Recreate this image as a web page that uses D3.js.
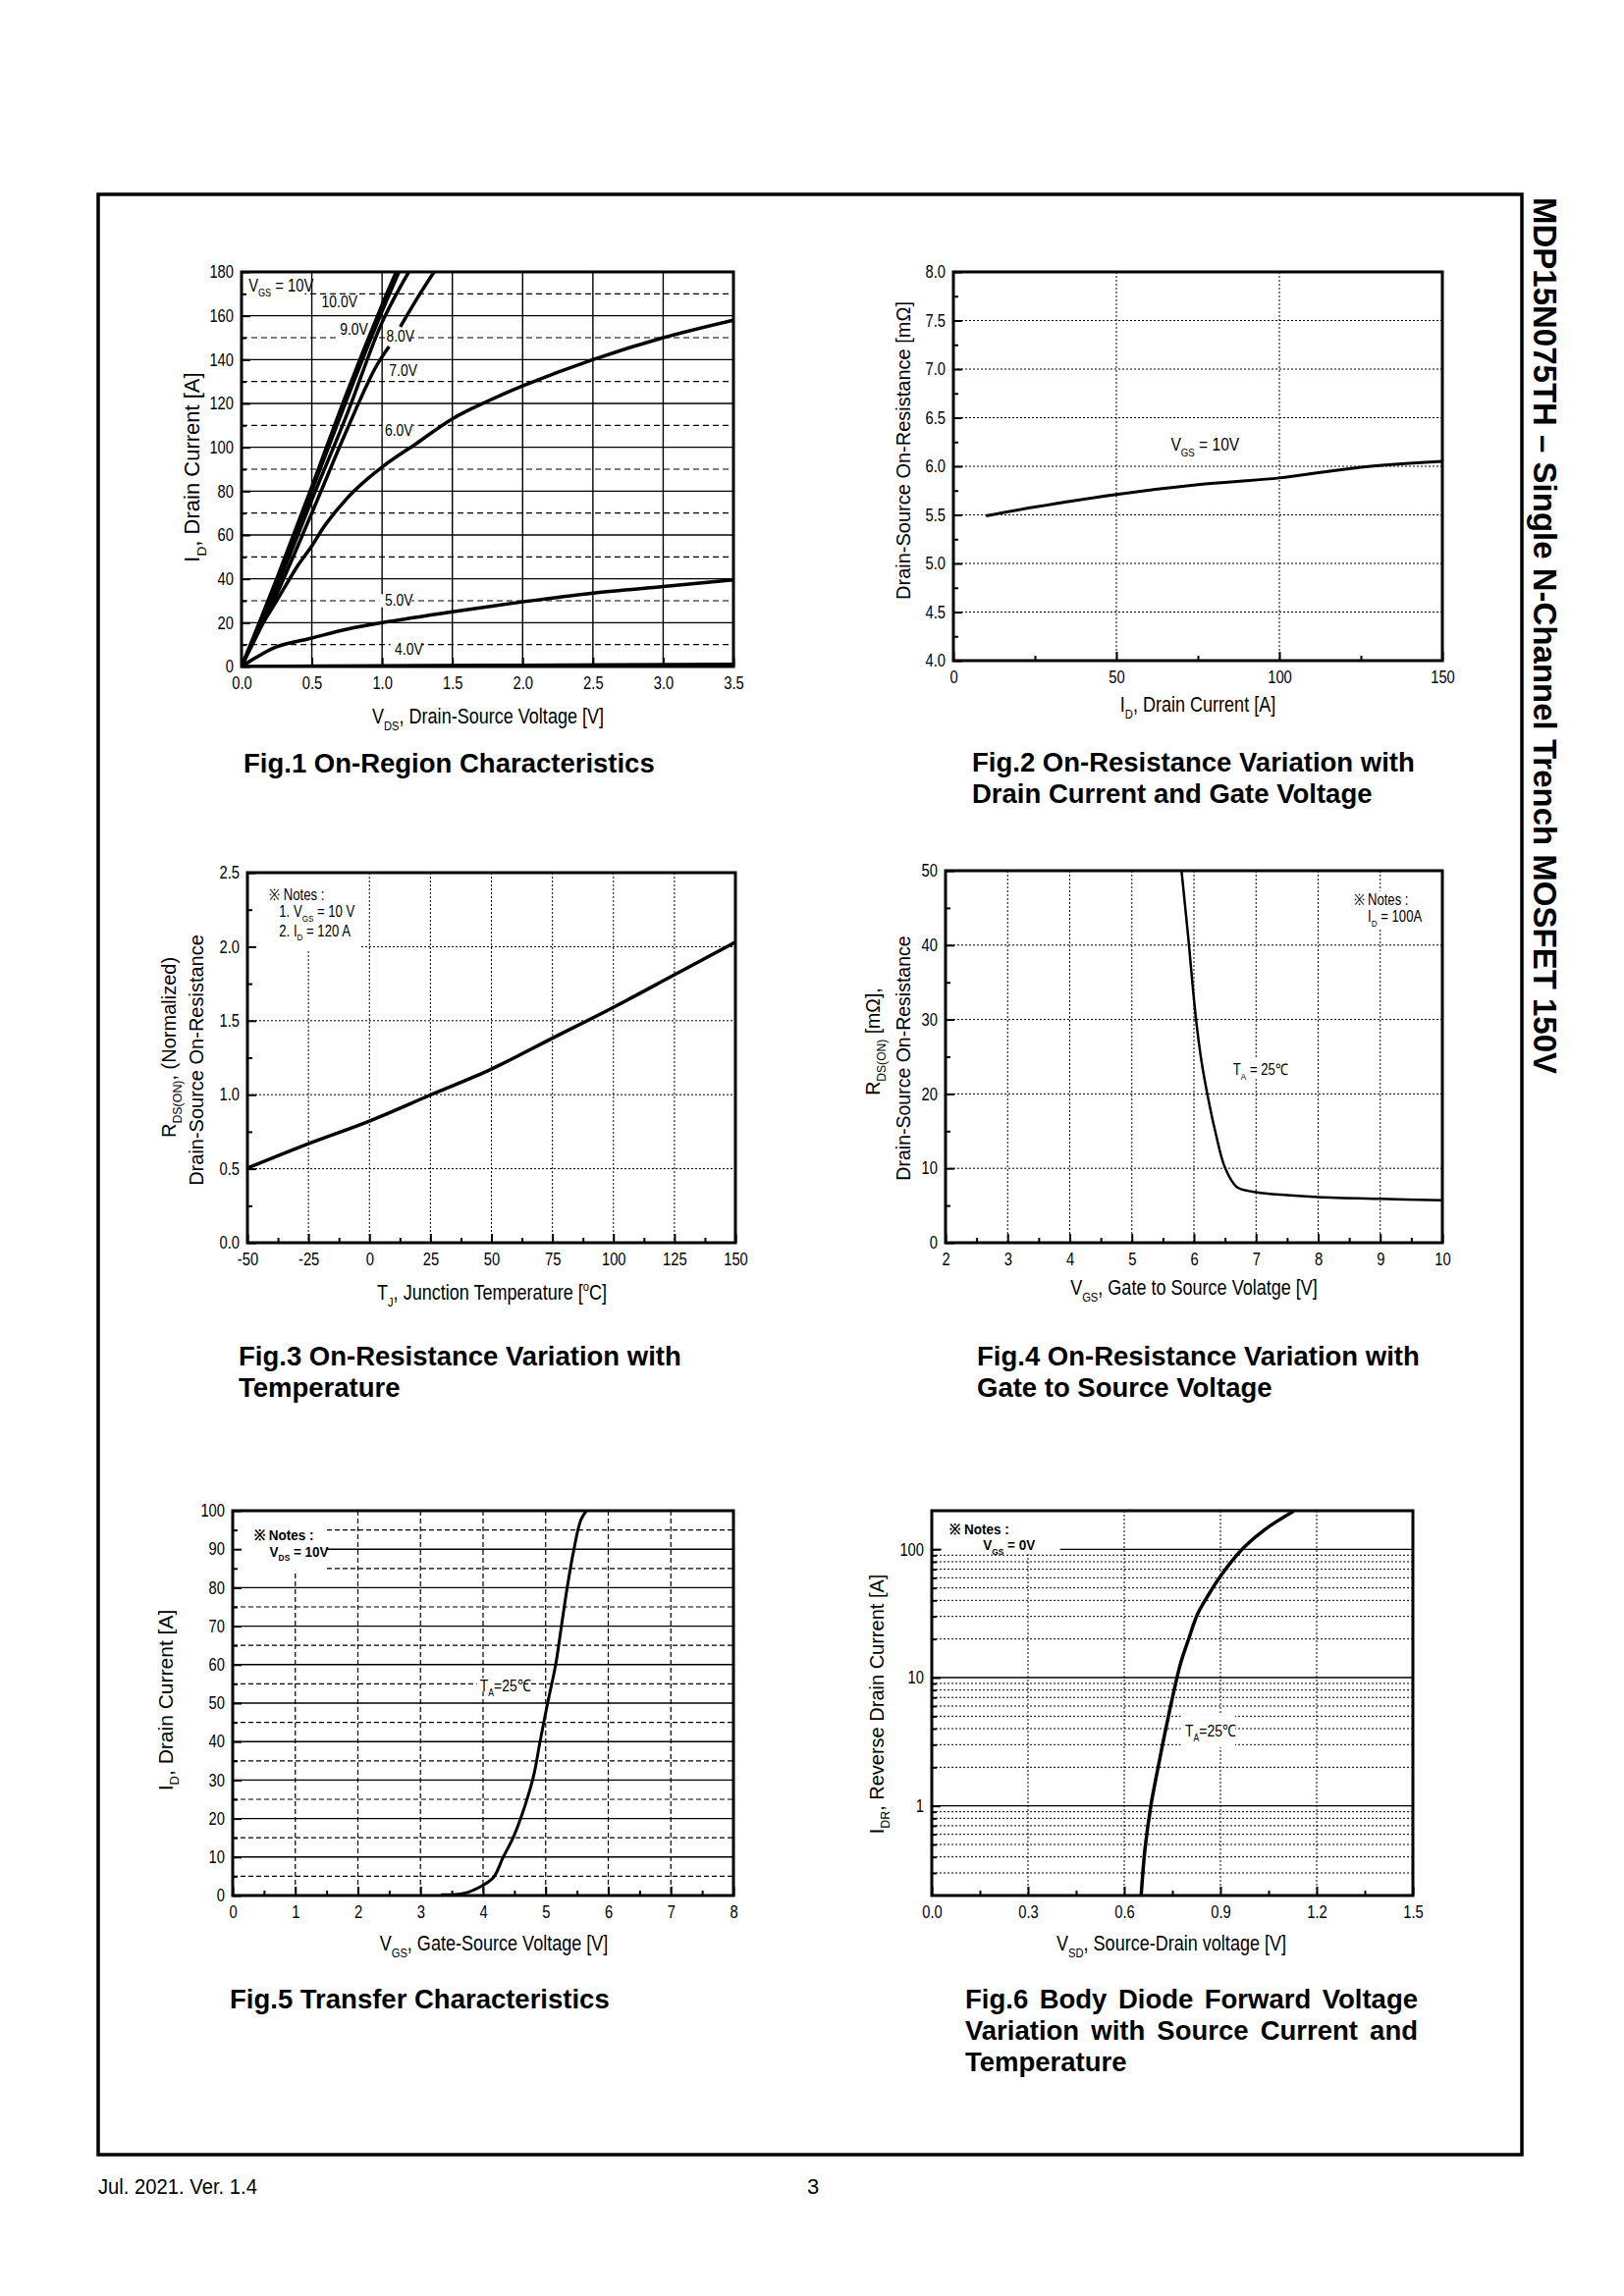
<!DOCTYPE html>
<html><head><meta charset="utf-8">
<script src="https://cdn.jsdelivr.net/npm/d3@7"></script>
<style>
body{margin:0;background:#fff}
svg text{fill:#000}
</style></head><body><svg id="page" width="1654" height="2339"></svg>
<script>
// ---------------- DATA ----------------
// Fig.1  On-Region Characteristics  (VDS [V], ID [A])
const fig1Vgs10 = [[0,0],[0.25,40],[0.5,82],[0.75,125],[1.0,165],[1.1,180]];
const fig1Vgs9  = [[0,0],[0.25,38],[0.5,80],[0.75,122],[1.0,162],[1.12,180]];
const fig1Vgs8  = [[0,0],[0.25,36],[0.5,76],[0.75,115],[1.0,157],[1.19,180]];
const fig1Vgs7  = [[0,0],[0.25,33],[0.5,70],[0.75,108],[0.95,136],[1.05,146],null,[1.13,155],[1.25,168],[1.37,180]];
const fig1Vgs6  = [[0,0],[0.1,14],[0.25,30],[0.4,46],[0.5,55],[0.6,65],[0.8,80],[1.0,91],[1.25,102],[1.5,113],[1.75,121],[2.0,128],[2.5,140],[3.0,150],[3.5,158]];
const fig1Vgs5  = [[0,0],[0.1,4],[0.25,9],[0.5,13],[0.75,17],[1.0,20],[1.5,25],[2.0,29.5],[2.5,33.5],[3.0,36.5],[3.5,39.5]];
const fig1Vgs4  = [[0,0],[1.0,0.3],[2.0,0.6],[3.5,1.0]];
const fig1CurveLabels = ["10.0V","9.0V","8.0V","7.0V","6.0V","5.0V","4.0V"];
// Fig.2  RDS(on) vs ID
const fig2Rds = [[10,5.49],[25,5.58],[50,5.71],[75,5.81],[100,5.88],[125,5.99],[150,6.05]];
// Fig.3  Normalized RDS(on) vs TJ
const fig3Rds = [[-50,0.504],[-25,0.669],[0,0.822],[25,0.998],[50,1.173],[75,1.382],[100,1.59],[125,1.81],[150,2.03]];
// Fig.4  RDS(on) vs VGS
const fig4Rds = [[5.8,50],[5.905,41.3],[6.03,30.3],[6.125,24.2],[6.22,19.8],[6.345,14.9],[6.5,10.1],[6.69,7.5],[7.0,6.8],[7.5,6.4],[8.0,6.15],[9.0,5.9],[10,5.7]];
// Fig.5  Transfer characteristics
const fig5Id = [[3.33,0.2],[3.7,0.6],[3.98,2.5],[4.17,4.8],[4.32,9.9],[4.48,15],[4.6,20],[4.73,26.5],[4.82,32],[4.91,40],[5.03,49.9],[5.16,60],[5.25,69.8],[5.34,79.6],[5.44,89],[5.56,97.5],[5.65,100]];
// Fig.6  Body diode forward
const fig6Idr = [[0.653,0.203],[0.665,0.468],[0.683,1.0],[0.706,2.02],[0.724,3.41],[0.741,5.45],[0.759,8.7],[0.776,13],[0.8,19.7],[0.829,31.4],[0.864,44.7],[0.9,61.7],[0.969,101],[1.04,143.6],[1.128,198]];
const fig6YTickLabels = [1,10,100];

// ---------------- DRAW ----------------
const REG = '"Liberation Sans",Arial,sans-serif';
const COND = 0.82;
const svg = d3.select("#page");
svg.append("rect").attr("width",1654).attr("height",2339).attr("fill","#fff");

function rich(sel, str, size) {
  const re = /([_^])\{([^}]*)\}/g;
  let last = 0, m, pending = 0;
  const add = (t, dy, fs) => {
    const ts = sel.append("tspan").text(t);
    if (dy) ts.attr("dy", dy);
    if (fs) ts.attr("font-size", fs);
  };
  while ((m = re.exec(str)) !== null) {
    if (m.index > last) { add(str.slice(last, m.index), pending); pending = 0; }
    const sh = m[1] === "_" ? 0.3*size : -0.42*size;
    add(m[2], sh + pending, size*0.62);
    pending = -sh;
    last = re.lastIndex;
  }
  if (last < str.length) add(str.slice(last), pending);
  else if (pending) add("\u200B", pending);
}
function txt(g, s, x, y, size, opts={}) {
  const t = g.append("text").attr("font-size", size).attr("font-family", REG)
    .attr("font-weight", opts.bold ? "bold" : "normal")
    .attr("text-anchor", opts.anchor || "start");
  const cond = opts.cond ? `scale(${opts.cond},1)` : "";
  if (opts.transform) t.attr("transform", opts.transform + " " + cond);
  else t.attr("transform", `translate(${x},${y}) ${cond}`);
  rich(t, s, size);
  return t;
}

let clipId = 0;
function chart(c) {
  const [L,T,R,B] = c.box;
  const g = svg.append("g");
  const x = d3.scaleLinear().domain(c.x).range([L,R]);
  const y = (c.log ? d3.scaleLog() : d3.scaleLinear()).domain(c.y).range([B,T]);
  (c.hGrid||[]).forEach(s => s.v.forEach(v => g.append("line")
    .attr("x1",L).attr("x2",R).attr("y1",y(v)).attr("y2",y(v))
    .attr("stroke","#000").attr("stroke-width",s.w).attr("stroke-dasharray",s.dash||null)));
  (c.vGrid||[]).forEach(s => s.v.forEach(v => g.append("line")
    .attr("y1",T).attr("y2",B).attr("x1",x(v)).attr("x2",x(v))
    .attr("stroke","#000").attr("stroke-width",s.w).attr("stroke-dasharray",s.dash||null)));
  (c.masks||[]).forEach(mk => g.append("rect")
    .attr("x", x(mk[0])).attr("width", x(mk[1])-x(mk[0]))
    .attr("y", y(mk[3])).attr("height", y(mk[2])-y(mk[3])).attr("fill","#fff"));
  const id = "clip" + (clipId++);
  svg.append("clipPath").attr("id", id).append("rect").attr("x",L).attr("y",T).attr("width",R-L).attr("height",B-T);
  const line = d3.line().defined(d => d).x(d => x(d[0])).y(d => y(d[1])).curve(d3.curveCatmullRom.alpha(0.5));
  c.curves.forEach(cv => g.append("path").attr("d", line(cv.d)).attr("fill","none")
    .attr("stroke","#000").attr("stroke-width", cv.w).attr("stroke-linejoin","round")
    .attr("clip-path", `url(#${id})`));
  const ax = g.append("g").attr("transform",`translate(0,${B})`)
    .call(d3.axisBottom(x).tickValues(c.xTicks).tickFormat(c.xFmt).tickSize(-9).tickPadding(10));
  const axm = g.append("g").attr("transform",`translate(0,${B})`)
    .call(d3.axisBottom(x).tickValues(c.xMinor||[]).tickFormat("").tickSize(-5));
  const ay = g.append("g").attr("transform",`translate(${L},0)`)
    .call(d3.axisLeft(y).tickValues(c.yTicks).tickFormat(c.yFmt).tickSize(-9).tickPadding(8));
  const aym = g.append("g").attr("transform",`translate(${L},0)`)
    .call(d3.axisLeft(y).tickValues(c.yMinor||[]).tickFormat("").tickSize(-5));
  [ax,axm,ay,aym].forEach(a => {
    a.select(".domain").remove();
    a.selectAll("line").attr("stroke","#000").attr("stroke-width",2);
    a.selectAll("text").attr("font-family",REG).attr("font-size",18).attr("fill","#000")
      .attr("transform",`scale(${COND},1)`);
  });
  ay.selectAll(".tick text").attr("x", -8/COND);
  (c.labels||[]).forEach(lb => txt(g, lb.t, x(lb.x), y(lb.y) + 0.36*lb.s, lb.s, {bold: lb.b, cond: lb.b ? 0.9 : COND}));
  g.append("rect").attr("x",L).attr("y",T).attr("width",R-L).attr("height",B-T)
    .attr("fill","none").attr("stroke","#000").attr("stroke-width",3);
  txt(g, c.xTitle.t, c.xTitle.x, c.xTitle.y, c.xTitle.s, {anchor:"middle", cond: COND});
  c.yTitle.forEach(yt => txt(g, yt.t, 0, 0, yt.s, {anchor:"middle",
    transform:`translate(${yt.x},${yt.y}) rotate(-90)`}));
  c.caption.lines.forEach((ln, i) => {
    const t = txt(g, ln, c.caption.x, c.caption.y + i*32, 27.5, {bold:true});
    if (c.caption.justify && c.caption.justify[i]) {
      const len = t.node().getComputedTextLength();
      const n = (ln.match(/ /g) || []).length;
      if (n) t.attr("word-spacing", (c.caption.justify[i] - len) / n);
    }
  });
}

const f1 = d3.format(".1f"), fd = d => d.toFixed(0);

// Fig 1
chart({
  box:[246,277,747,679], x:[0,3.5], y:[0,180],
  xTicks:d3.range(0,3.51,0.5), xFmt:f1, yTicks:d3.range(0,181,20), yFmt:fd, yMinor:d3.range(10,180,20),
  hGrid:[{v:d3.range(20,180,20), w:1.4},{v:d3.range(10,180,20), w:1.2, dash:"6,4"}],
  vGrid:[{v:d3.range(0.5,3.5,0.5), w:1.4}],
  masks:[[0,0.45,164,180],[0.57,0.79,162.5,169.5],[0.67,0.92,148.5,156.5],[1.02,1.2,147,156],
         [1.03,1.22,133,139],[1.005,1.22,105,111.5],[0.98,1.21,27,33],[1.06,1.28,5.5,11]],
  curves:[fig1Vgs10,fig1Vgs9,fig1Vgs8,fig1Vgs7,fig1Vgs6,fig1Vgs5,fig1Vgs4].map(d=>({d, w:3.5})),
  labels:[{t:"V_{GS} = 10V",x:0.05,y:174,s:18},
          {t:fig1CurveLabels[0],x:0.57,y:166.5,s:17},{t:fig1CurveLabels[1],x:0.70,y:154,s:17},
          {t:fig1CurveLabels[2],x:1.03,y:151,s:17},{t:fig1CurveLabels[3],x:1.05,y:135.5,s:17},
          {t:fig1CurveLabels[4],x:1.02,y:108,s:17},{t:fig1CurveLabels[5],x:1.02,y:30.5,s:17},
          {t:fig1CurveLabels[6],x:1.09,y:8,s:17}],
  xTitle:{t:"V_{DS}, Drain-Source Voltage [V]", x:497, y:737, s:22},
  yTitle:[{t:"I_{D}, Drain Current [A]", x:203, y:476, s:22}],
  caption:{x:248, y:787, lines:["Fig.1 On-Region Characteristics"]}
});

// Fig 2
chart({
  box:[971,277,1469,673], x:[0,150], y:[4,8],
  xTicks:[0,50,100,150], xFmt:fd, xMinor:[25,75,125],
  yTicks:d3.range(4,8.01,0.5), yFmt:f1, yMinor:d3.range(4.25,8,0.5),
  hGrid:[{v:d3.range(4.5,7.51,0.5), w:1, dash:"2,2"}],
  vGrid:[{v:[50,100], w:1, dash:"2,2"}],
  curves:[{d:fig2Rds, w:3}],
  labels:[{t:"V_{GS} = 10V", x:66.7, y:6.23, s:19}],
  xTitle:{t:"I_{D}, Drain Current [A]", x:1220, y:725, s:22},
  yTitle:[{t:"Drain-Source On-Resistance [m\u03A9]", x:927, y:459, s:20}],
  caption:{x:990, y:786, lines:["Fig.2 On-Resistance Variation with","Drain Current and Gate Voltage"]}
});

// Fig 3
chart({
  box:[252,889,749,1266], x:[-50,150], y:[0,2.5],
  xTicks:d3.range(-50,151,25), xFmt:fd, xMinor:d3.range(-37.5,150,25),
  yTicks:d3.range(0,2.51,0.5), yFmt:f1, yMinor:d3.range(0.25,2.5,0.5),
  hGrid:[{v:d3.range(0.5,2.01,0.5), w:1, dash:"2,2"}],
  vGrid:[{v:d3.range(-25,126,25), w:1, dash:"2,2"}],
  masks:[[-50,-3.5,1.97,2.5]],
  curves:[{d:fig3Rds, w:3.5}],
  labels:[{t:"\u203B Notes :", x:-41, y:2.35, s:16},{t:"1. V_{GS} = 10 V", x:-37, y:2.24, s:16},
          {t:"2. I_{D} = 120 A", x:-37, y:2.11, s:16}],
  xTitle:{t:"T_{J}, Junction Temperature [^{o}C]", x:501, y:1324, s:22},
  yTitle:[{t:"R_{DS(ON)}, (Normalized)", x:179, y:1067, s:20},{t:"Drain-Source On-Resistance", x:207, y:1080, s:20}],
  caption:{x:243, y:1391, lines:["Fig.3 On-Resistance Variation with","Temperature"]}
});

// Fig 4
chart({
  box:[963,887,1469,1266], x:[2,10], y:[0,50],
  xTicks:d3.range(2,10.01,1), xFmt:fd, xMinor:d3.range(2.5,10,1),
  yTicks:d3.range(0,51,10), yFmt:fd, yMinor:d3.range(5,50,10),
  hGrid:[{v:d3.range(10,41,10), w:1, dash:"2,2"}],
  vGrid:[{v:d3.range(3,9.01,1), w:1, dash:"2,2"}],
  masks:[[8.5,9.65,42.3,47.3],[6.6,7.4,22,24.8]],
  curves:[{d:fig4Rds, w:2.5}],
  labels:[{t:"\u203B Notes :", x:8.57, y:46.1, s:16},{t:"I_{D} = 100A", x:8.8, y:43.9, s:16},
          {t:"T_{A} = 25\u2103", x:6.63, y:23.3, s:16}],
  xTitle:{t:"V_{GS}, Gate to Source Volatge [V]", x:1216, y:1319, s:22},
  yTitle:[{t:"R_{DS(ON)} [m\u03A9],", x:896, y:1061, s:19.5},{t:"Drain-Source On-Resistance", x:927, y:1078, s:19.5}],
  caption:{x:995, y:1391, lines:["Fig.4 On-Resistance Variation with","Gate to Source Voltage"]}
});

// Fig 5
chart({
  box:[237,1539,747,1931], x:[0,8], y:[0,100],
  xTicks:d3.range(0,8.01,1), xFmt:fd, xMinor:d3.range(0.5,8,1),
  yTicks:d3.range(0,101,10), yFmt:fd, yMinor:d3.range(5,100,10),
  hGrid:[{v:d3.range(10,91,10), w:1.4},{v:d3.range(5,96,10), w:1.2, dash:"5,3"}],
  vGrid:[{v:d3.range(1,7.01,1), w:1.2, dash:"5,3"}],
  masks:[[0,1.5,84.5,100],[3.9,4.6,53,56.5]],
  curves:[{d:fig5Id, w:3}],
  labels:[{t:"\u203B Notes :", x:0.34, y:93.8, s:15, b:true},{t:"V_{DS} = 10V", x:0.59, y:89.5, s:15, b:true},
          {t:"T_{A}=25\u2103", x:3.95, y:54.6, s:17}],
  xTitle:{t:"V_{GS}, Gate-Source Voltage [V]", x:503, y:1987, s:22},
  yTitle:[{t:"I_{D}, Drain Current [A]", x:176, y:1732, s:21}],
  caption:{x:234, y:2046, lines:["Fig.5 Transfer Characteristics"]}
});

// Fig 6
const decMinor = [];
[0.1,1,10].forEach(b => d3.range(2,10).forEach(k => { const v = +(b*k).toFixed(3); if (v > 0.2 && v < 200) decMinor.push(v); }));
chart({
  box:[949,1539,1439,1931], x:[0,1.5], y:[0.2,200], log:true,
  xTicks:d3.range(0,1.51,0.3), xFmt:f1, xMinor:d3.range(0.15,1.5,0.3),
  yTicks:fig6YTickLabels, yFmt:fd, yMinor:decMinor,
  hGrid:[{v:fig6YTickLabels, w:1.4},{v:decMinor, w:1, dash:"2,2"}],
  vGrid:[{v:[0.3,0.6,0.9,1.2], w:1, dash:"2,2"}],
  masks:[[0.03,0.4,95,200],[0.776,0.946,2.86,5.1]],
  curves:[{d:fig6Idr, w:3.5}],
  labels:[{t:"\u203B Notes :", x:0.055, y:145, s:15, b:true},{t:"V_{GS} = 0V", x:0.16, y:108, s:15, b:true},
          {t:"T_{A}=25\u2103", x:0.79, y:3.88, s:17}],
  xTitle:{t:"V_{SD}, Source-Drain voltage [V]", x:1193, y:1987, s:22},
  yTitle:[{t:"I_{DR}, Reverse Drain Current [A]", x:900, y:1736, s:20}],
  caption:{x:983, y:2046, lines:["Fig.6 Body Diode Forward Voltage","Variation with Source Current and","Temperature"], justify:[461,461,null]}
});

// page frame, side title, footer
svg.append("rect").attr("x",100).attr("y",198).attr("width",1450).attr("height",1997)
  .attr("fill","none").attr("stroke","#000").attr("stroke-width",3.5);
txt(svg, "MDP15N075TH \u2013 Single N-Channel Trench MOSFET 150V", 0, 0, 33,
  {bold:true, transform:"translate(1562,201) rotate(90)"});
txt(svg, "Jul. 2021. Ver. 1.4", 100, 2235, 22, {cond:0.92});
txt(svg, "3", 828, 2235, 22, {anchor:"middle"});
</script></body></html>
